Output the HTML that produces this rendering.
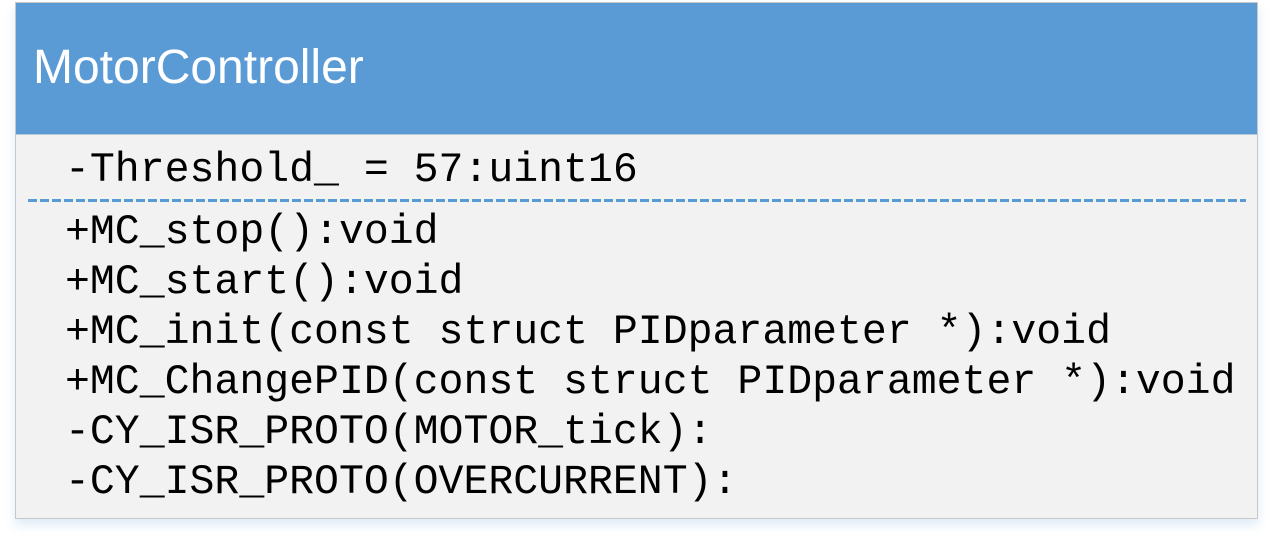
<!DOCTYPE html>
<html><head><style>
body{margin:0;width:1281px;height:541px;background:#fff;position:relative;overflow:hidden}
.box{position:absolute;left:15px;top:2px;width:1241px;height:515px;background:#f2f2f2;border:1px solid #c8c8c8;box-shadow:0 6px 10px rgba(91,155,213,0.2)}
.hdr{position:absolute;left:0;top:0;width:1241px;height:131px;background:#5b9bd5;border-bottom:1px solid #b8c8d8}
.title{position:absolute;left:17px;top:41px;font:48px/48px "Liberation Sans",sans-serif;color:#fff;letter-spacing:0}
.t{position:absolute;left:49px;font:41.5px "Liberation Mono",monospace;color:#000;white-space:pre;line-height:50px}
.dash{position:absolute;left:12px;top:196px;width:1218px;height:3px;background:repeating-linear-gradient(90deg,#5b9bd5 0 9px,transparent 9px 12px)}
</style></head><body>
<div class="box">
<div class="hdr"><div class="title">MotorController</div></div>
<div class="t" style="top:143px">-Threshold_ = 57:uint16</div>
<div class="dash"></div>
<div class="t" style="top:205px">+MC_stop():void
+MC_start():void
+MC_init(const struct PIDparameter *):void
+MC_ChangePID(const struct PIDparameter *):void
-CY_ISR_PROTO(MOTOR_tick):
-CY_ISR_PROTO(OVERCURRENT):</div>
</div>
</body></html>
